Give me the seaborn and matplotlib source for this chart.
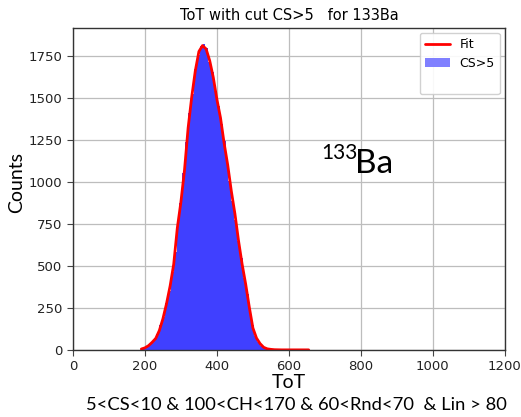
import numpy as np
import pandas as pd
import matplotlib
matplotlib.use("Agg")
import matplotlib.pyplot as plt
import seaborn as sns
from matplotlib.lines import Line2D
from matplotlib.patches import Patch

# ---- data ----
bin_start = 192
bin_width = 8
hist_counts = [9, 16, 30, 44, 70, 96, 150, 198, 280, 352, 462, 585, 760, 875,
               1050, 1235, 1410, 1525, 1670, 1755, 1805, 1821, 1795, 1715, 1650,
               1540, 1450, 1345, 1240, 1120, 1005, 885, 775, 648, 545, 425, 335,
               228, 145, 82, 46, 24, 14, 8, 5, 3, 2]

fit_x = [190, 200, 210, 220, 230, 240, 250, 260, 270, 280, 290, 300, 310, 320,
         330, 340, 350, 360, 370, 380, 390, 400, 410, 420, 430, 440, 450, 460,
         470, 480, 490, 500, 510, 520, 530, 540, 550, 560, 580, 600, 620, 640, 655]
fit_y = [5, 12, 25, 45, 68, 115, 185, 275, 380, 510, 725, 880, 1070, 1320,
         1504, 1660, 1775, 1810, 1790, 1720, 1620, 1490, 1380, 1230, 1100, 945,
         810, 650, 510, 390, 254, 130, 70, 37, 15, 6, 3, 1, 0, 0, 0, 0, 0]

title = "ToT with cut CS>5   for 133Ba"
xlabel = "ToT"
ylabel = "Counts"
cut_text = "5<CS<10 & 100<CH<170 & 60<Rnd<70  & Lin > 80"

edges = [bin_start + i * bin_width for i in range(len(hist_counts) + 1)]
centers = [bin_start + (i + 0.5) * bin_width for i in range(len(hist_counts))]
df = pd.DataFrame({"ToT": centers, "w": hist_counts})
fdf = pd.DataFrame({"x": fit_x, "y": fit_y})

sns.set_style("ticks", {"axes.grid": True, "grid.color": "#b0b0b0",
                        "axes.edgecolor": "black", "text.color": "black",
                        "xtick.color": "#222222", "ytick.color": "#222222",
                        "axes.labelcolor": "black"})
plt.rcParams["font.family"] = ["DejaVu Sans"]

fig = plt.figure(figsize=(5.21, 4.17), dpi=100)
ax = fig.add_axes([0.140, 0.161, 0.829, 0.772])

sns.histplot(data=df, x="ToT", weights="w", bins=edges, ax=ax,
             color="#4040ff", alpha=1.0, edgecolor="none", linewidth=0,
             element="bars")
sns.lineplot(data=fdf, x="x", y="y", ax=ax, color="red", linewidth=2)

ax.set_xlim(0, 1200)
ax.set_ylim(0, 1915)
ax.set_xticks([0, 200, 400, 600, 800, 1000, 1200])
ax.set_yticks([0, 250, 500, 750, 1000, 1250, 1500, 1750])
ax.tick_params(labelsize=9.5, length=4, color="#444444")
ax.grid(True, color="#bdbdbd", linewidth=0.9)
ax.set_axisbelow(True)
for s in ax.spines.values():
    s.set_color("#333333")
    s.set_linewidth(1.0)
ax.set_xlabel("")
ax.set_ylabel("")
ax.set_title(title, fontsize=10.5, pad=6, color="black")

handles = [Line2D([0], [0], color="red", lw=2),
           Patch(facecolor="#8080ff", edgecolor="none"),
           Line2D([0], [0], color="none")]
leg = ax.legend(handles, ["Fit", "CS>5", " "], loc="upper right", fontsize=9,
                framealpha=0.9, borderaxespad=0.4, handlelength=2.0)
for t in leg.get_texts():
    t.set_color("black")

lab_font = ["Lato", "DejaVu Sans"]
fig.text(289 / 521, 1 - 383 / 417, xlabel, ha="center", va="center",
         fontsize=14, family=lab_font, color="black")
fig.text(17 / 521, 1 - 183 / 417, ylabel, ha="center", va="center",
         rotation=90, fontsize=14, family=lab_font, color="black")
fig.text(296 / 521, 1 - 405 / 417, cut_text, ha="center", va="center",
         fontsize=13.2, family=lab_font, color="black")
fig.text(321 / 521, 1 - 163 / 417, "133", ha="left", va="bottom",
         fontsize=15, family=lab_font, color="black")
fig.text(355 / 521, 1 - 173 / 417, "Ba", ha="left", va="baseline",
         fontsize=24, family=lab_font, color="black")

fig.savefig("out.png", dpi=100)
